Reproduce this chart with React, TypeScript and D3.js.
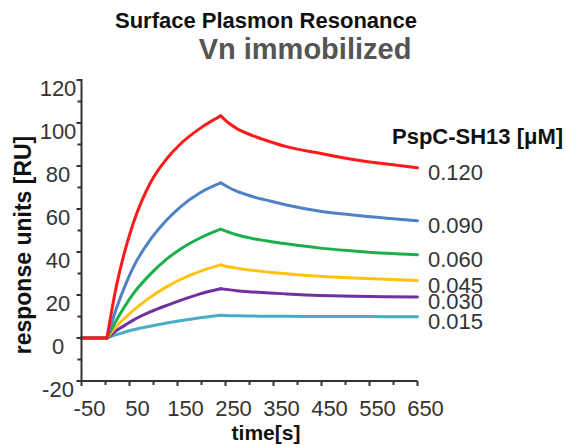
import * as d3 from "d3";

// concentrations of PspC-SH13 [µM], lowest first so the red trace is drawn on top
const concentrations = ["0.015", "0.030", "0.045", "0.060", "0.090", "0.120"];
const colors = ["#4bacc6", "#7030a0", "#ffc20e", "#1aaf4b", "#4f81c7", "#ff1a1a"];

// baseline before injection
const baseTimes = [-50, 3];

// association phase (injection start -> 240 s)
const assocTimes = [3, 23, 41, 58, 93, 128, 155, 197, 240];
const assocValues = [
  [0, 1.6, 2.8, 3.8, 5.5, 7, 8, 9.4, 10.6],
  [0, 3.5, 6, 8.3, 12.1, 15.2, 17.4, 20.5, 22.9],
  [0, 5.5, 9.4, 12.8, 18.9, 23.9, 27.1, 31, 34],
  [0, 8.4, 15, 20.6, 29.6, 36.8, 41.2, 46.5, 50.6],
  [0, 14, 24.5, 33, 45.6, 55, 60.8, 67.6, 72.2],
  [0, 24.5, 41, 53.5, 72, 83.5, 90, 97.5, 103.3],
];

// dissociation phase (240 s -> 650 s)
const dissocTimes = [240, 256, 273, 308, 343, 377, 447, 516, 586, 650];
const dissocValues = [
  [10.6, 10.4, 10.3, 10.2, 10.1, 10.1, 10, 10, 9.9, 9.9],
  [22.9, 22.5, 22, 21.4, 20.9, 20.5, 19.8, 19.4, 19.2, 19.1],
  [34, 33.1, 32.5, 31.4, 30.6, 29.9, 28.7, 27.9, 27.3, 26.7],
  [50.6, 49.3, 48, 46.2, 44.9, 43.8, 41.8, 40.5, 39.4, 38.7],
  [72.2, 70.1, 68.3, 65.7, 63.7, 61.9, 59, 57.2, 55.7, 54.5],
  [103.3, 100.1, 97.5, 94, 91.3, 89, 85.9, 83, 80.9, 79.2],
];

const xMajor = d3.range(-50, 651, 100);
const xMinor = d3.range(0, 601, 100);
const yMajor = d3.range(-20, 121, 20);
const yMinor = d3.range(-10, 111, 20);

const width = 568;
const height = 445;
const font = "'Liberation Sans', Arial, sans-serif";

export default function App() {
  const x = d3.scaleLinear([-50, 650], [81.5, 417.5]);
  const y = d3.scaleLinear([-20, 120], [381, 80]);

  const straight = d3.line<[number, number]>((d) => x(d[0]), (d) => y(d[1]));
  const smooth = d3
    .line<[number, number]>((d) => x(d[0]), (d) => y(d[1]))
    .curve(d3.curveMonotoneX);

  const axisColor = "#333";
  const x0 = x.range()[0];
  const yBottom = y.range()[0];

  return (
    <svg
      width={width}
      height={height}
      style={{ position: "absolute", left: 0, top: 0, background: "#fff" }}
      fontFamily={font}
    >
      <text x={266} y={28} textAnchor="middle" fontSize={22} fontWeight="bold" fill="#111">
        Surface Plasmon Resonance
      </text>
      <text x={305} y={59} textAnchor="middle" fontSize={29} fontWeight="bold" fill="#555">
        Vn immobilized
      </text>

      {/* traces */}
      <g fill="none" strokeWidth={3} strokeLinejoin="round" strokeLinecap="round">
        {concentrations.map((c, i) => (
          <g key={c} stroke={colors[i]}>
            <path d={straight(baseTimes.map((t) => [t, 0] as [number, number])) ?? ""} />
            <path d={smooth(assocTimes.map((t, j) => [t, assocValues[i][j]] as [number, number])) ?? ""} />
            <path d={smooth(dissocTimes.map((t, j) => [t, dissocValues[i][j]] as [number, number])) ?? ""} />
          </g>
        ))}
      </g>

      {/* y axis */}
      <g stroke={axisColor} strokeWidth={2}>
        <line x1={x0} x2={x0} y1={y(120) - 1} y2={yBottom + 1} />
        {yMajor.map((v) => (
          <line key={v} x1={x0 - 5} x2={x0} y1={y(v)} y2={y(v)} />
        ))}
        {yMinor.map((v) => (
          <line key={v} x1={x0 - 4} x2={x0} y1={y(v)} y2={y(v)} />
        ))}
      </g>
      <g fontSize={22} fill="#333" textAnchor="middle">
        {yMajor.map((v) => (
          <text key={v} x={58} y={y(v) + 16}>
            {v}
          </text>
        ))}
      </g>

      {/* x axis */}
      <g stroke={axisColor} strokeWidth={2}>
        <line x1={x0 - 4} x2={x(650)} y1={yBottom} y2={yBottom} />
        {xMajor.map((v) => (
          <line key={v} x1={x(v)} x2={x(v)} y1={yBottom} y2={yBottom + 5} />
        ))}
        {xMinor.map((v) => (
          <line key={v} x1={x(v)} x2={x(v)} y1={yBottom} y2={yBottom + 4} />
        ))}
      </g>
      <g fontSize={22} fill="#333" textAnchor="middle">
        {xMajor.map((v) => (
          <text key={v} x={x(v) + 8} y={416}>
            {v}
          </text>
        ))}
      </g>

      <text x={266} y={440} textAnchor="middle" fontSize={21} fontWeight="bold" fill="#111">
        time[s]
      </text>
      <text
        transform="translate(31,245) rotate(-90)"
        textAnchor="middle"
        fontSize={23}
        fontWeight="bold"
        fill="#111"
      >
        response units [RU]
      </text>

      {/* legend */}
      <text x={392} y={144} fontSize={22} fontWeight="bold" fill="#111">
        PspC-SH13 [μM]
      </text>
      <g fontSize={22} fill="#333">
        {concentrations.map((c, i) => (
          <text
            key={c}
            x={428}
            y={y(dissocValues[i][dissocValues[i].length - 1]) + 5}
            dominantBaseline="central"
          >
            {c}
          </text>
        ))}
      </g>
    </svg>
  );
}
